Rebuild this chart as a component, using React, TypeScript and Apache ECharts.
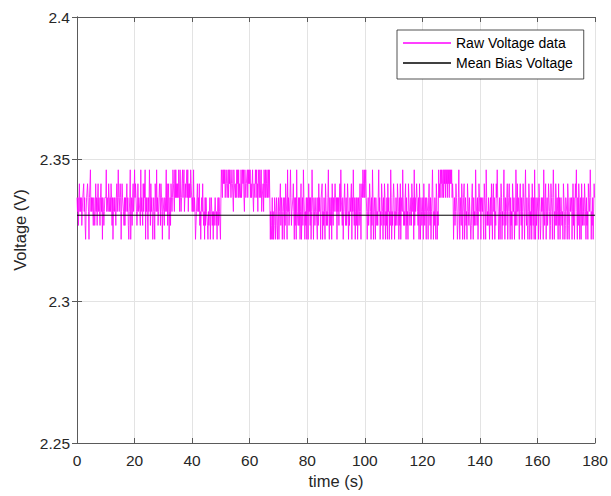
import React, { useEffect, useRef } from "react";
import * as echarts from "echarts";

// Quantized ADC voltage levels (V)
const levels = [2.3217, 2.3266, 2.3315, 2.3364, 2.3413, 2.3462];
// Sampling interval (s) of the raw trace
const sampleStep = 1 / 6;
// Raw data as level indices, one string per 10 s (60 samples each)
const rawCodes = [
  "3231342323" + "1233423102" + "3343203352" + "3232133124" + "2313423213" + "4230321233",
  "3523324323" + "2431302323" + "2134235323" + "4302433213" + "1323423102" + "3502313423",
  "5343212423" + "3215232142" + "4350323303" + "2531423302" + "3204325231" + "2343143203",
  "3213235241" + "3402314323" + "5432535343" + "4354253234" + "5345234345" + "3524343543",
  "2325232012" + "3423241202" + "3242120313" + "2210212302" + "3212021232" + "1202313210",
  "3543545453" + "4543453545" + "5345432544" + "3435453534" + "4353454532" + "5434453545",
  "4534345324" + "4354534254" + "3543523342" + "5435345345" + "3530201302" + "0132023102",
  "3023413202" + "3203143205" + "2312353122" + "3420313052" + "2131302402" + "3153202130",
  "3204231302" + "5320321132" + "2031423203" + "3402132043" + "1213520312" + "3042132243",
  "2303231342" + "5321302342" + "1312430213" + "2340325213" + "0231302312" + "4203435435",
  "3453202312" + "4320315302" + "3203312135" + "2302143203" + "1430213042" + "3021530213",
  "4302132143" + "2031402325" + "3121340312" + "0432123143" + "2305132243" + "2130420321",
  "2304213203" + "3203421302" + "3530213204" + "3021534354" + "5345354535" + "4535453545",
  "4534302312" + "4320135203" + "2143023402" + "3120432132" + "2013420312" + "1532130243",
  "2303323104" + "3205312132" + "0231420342" + "3021435320" + "1302430213" + "5203123402",
  "3420312043" + "2302153142" + "3203421302" + "4320352131" + "0243021304" + "2130520312",
  "2304320132" + "3205213402" + "3124320143" + "2035302143" + "1320413023" + "3120432013",
  "3204310232" + "2302413024" + "3520314302" + "3042132143" + "2031204323" + "5302130243",
];
const meanBias = 2.3302;
const xTicks = { min: 0, max: 180, interval: 20 };
const yTicks = { min: 2.25, max: 2.4, interval: 0.05 };

const FONT = "'Liberation Sans', Arial, Helvetica, sans-serif";
const AXIS_COLOR = "#5a5a5a";
const TEXT_COLOR = "#262626";

export default function App() {
  const ref = useRef<HTMLDivElement>(null);
  useEffect(() => {
    if (!ref.current) return;
    const chart = echarts.init(ref.current, null, { renderer: "svg" });
    const codes = rawCodes.join("");
    const rawData: [number, number][] = [];
    for (let i = 0; i < codes.length; i++) {
      rawData.push([i * sampleStep, levels[Number(codes[i])]]);
    }
    const meanData = [
      [xTicks.min, meanBias],
      [xTicks.max, meanBias],
    ];
    const tickCommon = {
      axisLine: { show: true, lineStyle: { color: AXIS_COLOR, width: 1 } },
      axisTick: { show: true, inside: true, length: 5, lineStyle: { color: AXIS_COLOR } },
    };
    chart.setOption({
      animation: false,
      backgroundColor: "#ffffff",
      grid: { left: 77, right: 12, top: 17, bottom: 53, containLabel: false },
      legend: {
        orient: "vertical",
        left: 397,
        top: 30,
        padding: [5, 11, 8, 6],
        itemGap: 4,
        itemWidth: 48,
        itemHeight: 1.5,
        itemTextGap: 5,
        backgroundColor: "#ffffff",
        borderColor: "#262626",
        borderWidth: 0.8,
        borderRadius: 0,
        data: [
          { name: "Raw Voltage data", icon: "rect" },
          { name: "Mean Bias Voltage", icon: "rect" },
        ],
        textStyle: { fontFamily: FONT, fontSize: 14, color: "#000", lineHeight: 16 },
      },
      xAxis: [
        {
          type: "value",
          position: "bottom",
          ...xTicks,
          ...tickCommon,
          splitLine: { show: true, lineStyle: { color: "#e3e3e3", width: 1 } },
          axisLabel: { fontFamily: FONT, fontSize: 15.5, color: TEXT_COLOR, margin: 9 },
          name: "time (s)",
          nameLocation: "middle",
          nameGap: 29,
          nameTextStyle: { fontFamily: FONT, fontSize: 16.5, color: TEXT_COLOR },
        },
        {
          type: "value",
          position: "top",
          ...xTicks,
          ...tickCommon,
          splitLine: { show: false },
          axisLabel: { show: false },
        },
      ],
      yAxis: [
        {
          type: "value",
          position: "left",
          ...yTicks,
          ...tickCommon,
          splitLine: { show: true, lineStyle: { color: "#e3e3e3", width: 1 } },
          axisLabel: { fontFamily: FONT, fontSize: 15.5, color: TEXT_COLOR, margin: 7 },
          name: "Voltage (V)",
          nameLocation: "middle",
          nameGap: 42,
          nameTextStyle: { fontFamily: FONT, fontSize: 16.5, color: TEXT_COLOR },
        },
        {
          type: "value",
          position: "right",
          ...yTicks,
          ...tickCommon,
          splitLine: { show: false },
          axisLabel: { show: false },
        },
      ],
      series: [
        {
          name: "Raw Voltage data",
          type: "line",
          data: rawData,
          showSymbol: false,
          symbol: "none",
          lineStyle: { color: "#ff00ff", width: 0.8 },
          itemStyle: { color: "#ff00ff" },
          z: 2,
        },
        {
          name: "Mean Bias Voltage",
          type: "line",
          data: meanData,
          showSymbol: false,
          symbol: "none",
          lineStyle: { color: "#000000", width: 1 },
          itemStyle: { color: "#000000" },
          z: 3,
        },
      ],
    });
    return () => chart.dispose();
  }, []);
  return (
    <div
      ref={ref}
      style={{ position: "fixed", left: 0, top: 0, width: 611, height: 496 }}
    />
  );
}
